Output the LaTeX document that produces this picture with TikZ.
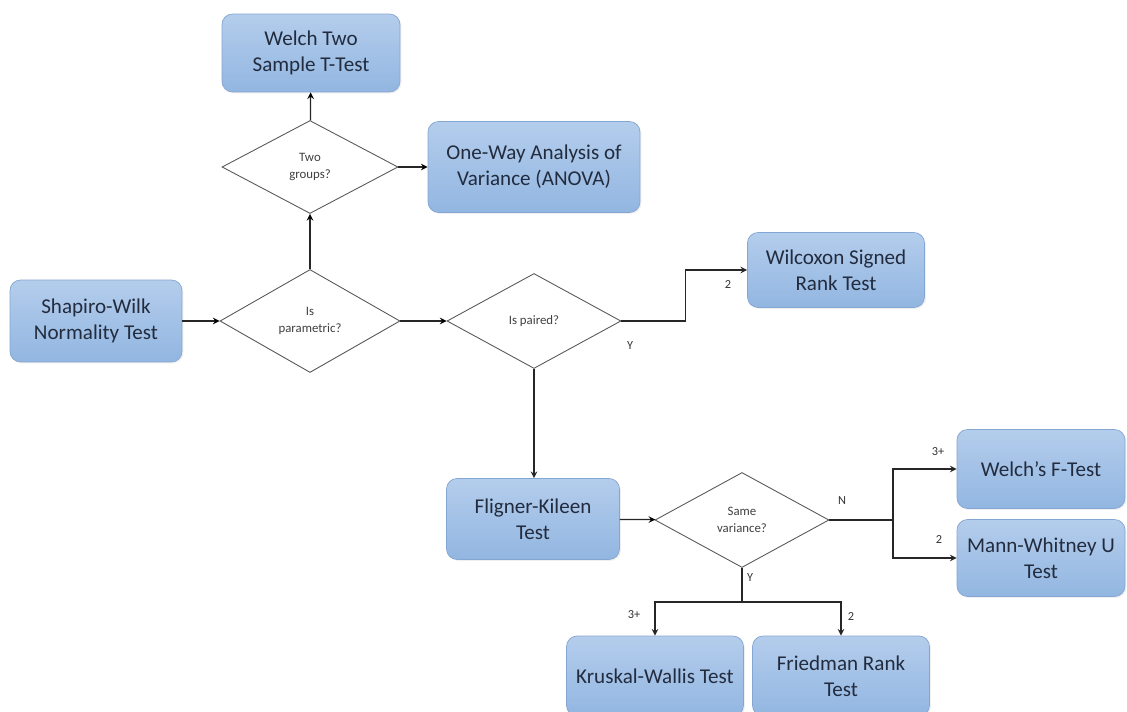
\documentclass[tikz,border=0pt]{standalone}
\usepackage{fontspec}
\setmainfont{Carlito}
\usetikzlibrary{shapes.geometric,shadows}

\definecolor{boxtop}{RGB}{180,205,236}
\definecolor{boxbot}{RGB}{146,182,225}
\definecolor{boxline}{RGB}{132,166,210}
\definecolor{boxtext}{RGB}{34,44,62}

\tikzset{
  test/.style={draw=boxline, line width=0.4pt, rounded corners=6pt,
    top color=boxtop, bottom color=boxbot, align=center, text=boxtext,
    font=\fontsize{12}{14.8}\selectfont, inner sep=2pt,
    drop shadow={opacity=0.12, shadow xshift=0.8pt, shadow yshift=-0.8pt}},
  decision/.style={diamond, draw=black!65, line width=0.5pt, fill=white,
    align=center, text=black!75, font=\fontsize{7.3}{10}\selectfont, inner sep=0pt},
  choice/.style={font=\fontsize{7}{8}\selectfont, text=black!80, inner sep=0pt},
  flow/.style={draw=black!85, line width=0.7pt},
}

\begin{document}
\begin{tikzpicture}[>=stealth, x=0.02cm, y=-0.02cm]
    \useasboundingbox[fill=white] (0,0) rectangle (1127,711);

    % result boxes
    \node[test, minimum width=3.56cm, minimum height=1.56cm] (welchT)   at (311,53)   {Welch Two\\Sample T-Test};
    \node[test, minimum width=4.24cm, minimum height=1.82cm] (anova)    at (534,167)  {One-Way Analysis of\\Variance (ANOVA)};
    \node[test, minimum width=3.44cm, minimum height=1.64cm] (shapiro)  at (96,321)   {Shapiro-Wilk\\Normality Test};
    \node[test, minimum width=3.54cm, minimum height=1.50cm] (wilcoxon) at (836,270)  {Wilcoxon Signed\\Rank Test};
    \node[test, minimum width=3.46cm, minimum height=1.62cm] (fligner)  at (533,519)  {Fligner-Kileen\\Test};
    \node[test, minimum width=3.36cm, minimum height=1.58cm] (welchF)   at (1041,469) {Welch’s F-Test};
    \node[test, minimum width=3.36cm, minimum height=1.54cm] (mann)     at (1041,558) {Mann-Whitney U\\Test};
    \node[test, minimum width=3.54cm, minimum height=1.60cm] (kruskal)  at (655,676)  {Kruskal-Wallis Test};
    \node[test, minimum width=3.54cm, minimum height=1.60cm] (friedman) at (841,676)  {Friedman Rank\\Test};

    % decisions
    \node[decision, minimum width=3.52cm, minimum height=1.86cm] (groups)   at (310,167) {Two\\groups?};
    \node[decision, minimum width=3.60cm, minimum height=2.06cm] (param)    at (310,321) {Is\\parametric?};
    \node[decision, minimum width=3.48cm, minimum height=1.90cm] (paired)   at (534,321) {Is paired?};
    \node[decision, minimum width=3.48cm, minimum height=1.90cm] (variance) at (742,520) {Same\\variance?};

    \coordinate (splitN) at (893,520);
    \coordinate (splitY) at (742,602);

    \path[flow] (shapiro)        edge[->] (param)
                (param)          edge[->] (groups)
                (groups)         edge[->] (welchT)
                (groups)         edge[->] (anova)
                (param)          edge[->] (paired)
                (fligner)        edge[->] (variance)
                (variance.east)  edge     (splitN)
                (variance.south) edge     (splitY);
    \draw[flow,->] (paired.east) -- ++(64,0) |- (wilcoxon.west);
    \draw[flow,->] (paired.south) -- (paired.south |- fligner.north);
    \draw[flow,->] (splitN) |- (welchF.west);
    \draw[flow,->] (splitN) |- (mann.west);
    \draw[flow,->] (splitY) -| (kruskal.north);
    \draw[flow,->] (splitY) -| (friedman.north);

    % branch labels
    \node[choice] (pairedTwo)  at (728,285) {2};
    \node[choice] (pairedY)    at (630,346) {Y};
    \node[choice] (varN)       at (842,501) {N};
    \node[choice] (varNThree)  at (938,452) {3+};
    \node[choice] (varNTwo)    at (939,540) {2};
    \node[choice] (varY)       at (750,578) {Y};
    \node[choice] (varYThree)  at (634,615) {3+};
    \node[choice] (varYTwo)    at (851,617) {2};
\end{tikzpicture}
\end{document}
